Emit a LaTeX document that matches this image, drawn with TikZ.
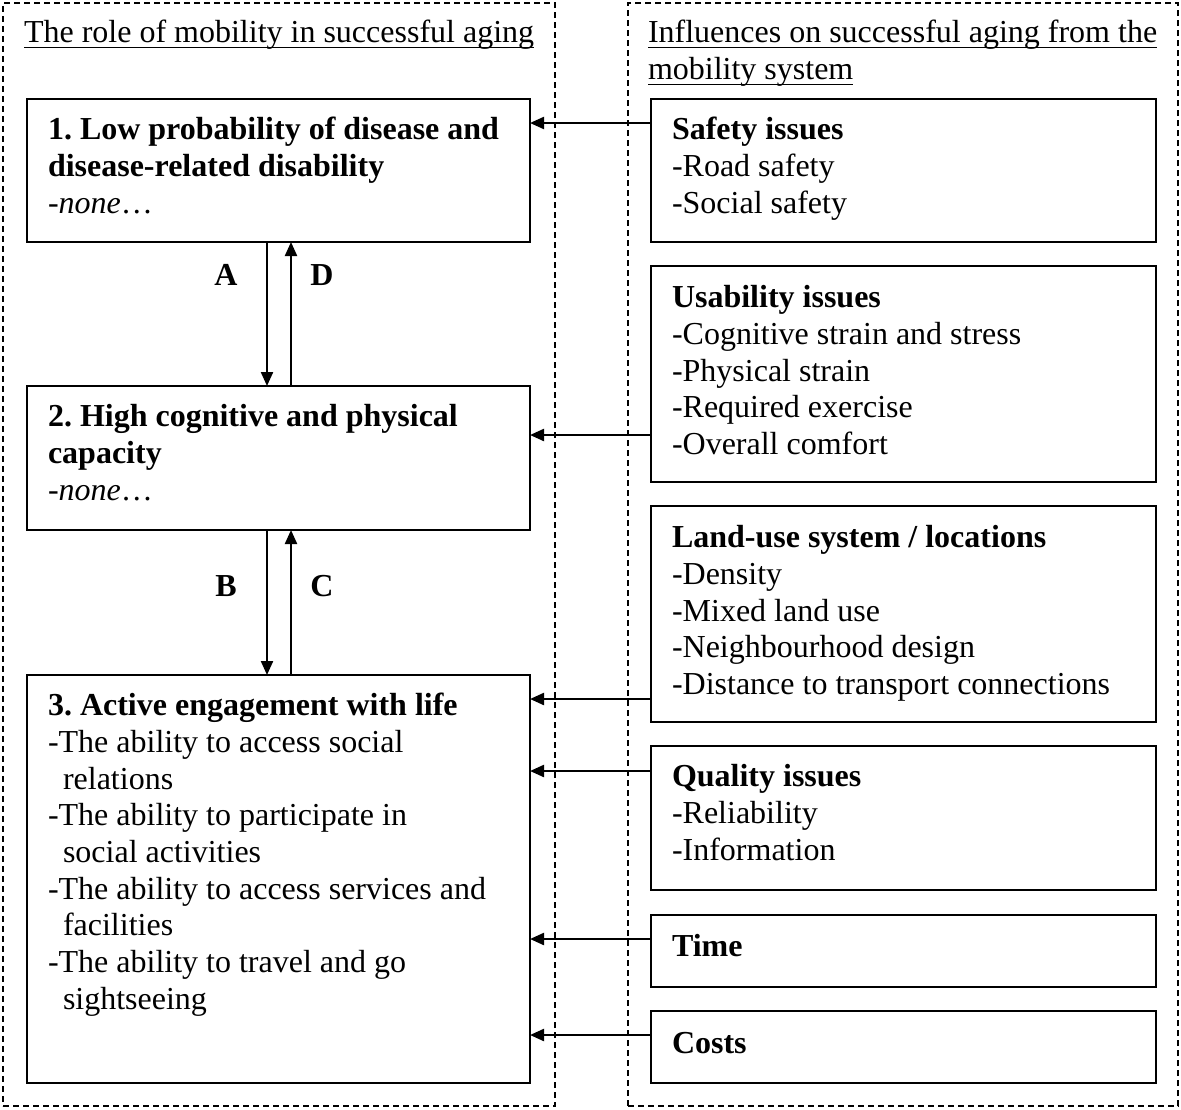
\documentclass[tikz,border=0pt]{standalone}
\usepackage{fontspec}
\setmainfont{Liberation Serif}
\usetikzlibrary{arrows.meta}
\frenchspacing
\begin{document}
\begin{tikzpicture}[x=1pt,y=-1pt,
  every node/.style={font=\fontsize{32}{36.7}\selectfont, inner sep=0pt, outer sep=0pt},
  panel/.style={draw, line width=1.2pt, dash pattern=on 6pt off 4pt, anchor=north west},
  box/.style={draw, line width=2pt, anchor=north west},
  lbox/.style={box, minimum width=503},
  rbox/.style={box, minimum width=505},
  txt/.style={anchor=north west, align=left},
  hdr/.style={anchor=base west},
  uline/.style={line width=1.4pt},
  lbl/.style={font=\fontsize{32}{36.7}\selectfont\bfseries},
  arr/.style={line width=2.2pt, -{Triangle[length=14pt,width=12pt]}},
]
\useasboundingbox (0,0) rectangle (1181,1109);

% two dashed panels
\node[panel, minimum width=552, minimum height=1103] (lp) at (3,3) {};
\node[panel, minimum width=550, minimum height=1103] (rp) at (628,3) {};

% panel headings
\node[hdr] (h1) at (24,42) {The role of mobility in successful aging};
\draw[uline] ([yshift=-5.5pt]h1.base west) -- ([yshift=-5.5pt]h1.base east);
\node[hdr] (h2) at (648,42) {Influences on successful aging from the};
\draw[uline] ([yshift=-5.5pt]h2.base west) -- ([yshift=-5.5pt]h2.base east);
\node[hdr] (h3) at (648,79) {mobility system};
\draw[uline] ([yshift=-5.5pt]h3.base west) -- ([yshift=-5.5pt]h3.base east);

% left column: components of successful aging
\node[lbox, minimum height=143] (b1) at (27,99) {};
\node[lbox, minimum height=144] (b2) at (27,386) {};
\node[lbox, minimum height=408] (b3) at (27,675) {};

\node[txt] (t1) at ([xshift=21pt,yshift=-15pt]b1.north west)
  {\strut\textbf{1. Low probability of disease and}\\
   \textbf{disease-related disability}\\
   \textit{-none}\ldots};
\node[txt] (t2) at ([xshift=21pt,yshift=-15pt]b2.north west)
  {\strut\textbf{2. High cognitive and physical}\\
   \textbf{capacity}\\
   \textit{-none}\ldots};
\node[txt] (t3) at ([xshift=21pt,yshift=-15pt]b3.north west)
  {\strut\textbf{3. Active engagement with life}\\
   -The ability to access social\\
   \hspace*{15pt}relations\\
   -The ability to participate in\\
   \hspace*{15pt}social activities\\
   -The ability to access services and\\
   \hspace*{15pt}facilities\\
   -The ability to travel and go\\
   \hspace*{15pt}sightseeing};

% right column: influences from the mobility system
\node[rbox, minimum height=143] (sf) at (651,99) {};
\node[rbox, minimum height=216] (us) at (651,266) {};
\node[rbox, minimum height=216] (lu) at (651,506) {};
\node[rbox, minimum height=144] (qu) at (651,746) {};
\node[rbox, minimum height=72]  (ti) at (651,915) {};
\node[rbox, minimum height=72]  (co) at (651,1011) {};

\node[txt] (tsf) at ([xshift=21pt,yshift=-15pt]sf.north west)
  {\strut\textbf{Safety issues}\\ -Road safety\\ -Social safety};
\node[txt] (tus) at ([xshift=21pt,yshift=-16pt]us.north west)
  {\strut\textbf{Usability issues}\\ -Cognitive strain and stress\\ -Physical strain\\
   -Required exercise\\ -Overall comfort};
\node[txt] (tlu) at ([xshift=21pt,yshift=-16pt]lu.north west)
  {\strut\textbf{Land-use system / locations}\\ -Density\\ -Mixed land use\\
   -Neighbourhood design\\ -Distance to transport connections};
\node[txt] (tqu) at ([xshift=21pt,yshift=-15pt]qu.north west)
  {\strut\textbf{Quality issues}\\ -Reliability\\ -Information};
\node[txt] (tti) at ([xshift=21pt,yshift=-16pt]ti.north west)
  {\strut\textbf{Time}};
\node[txt] (tco) at ([xshift=21pt,yshift=-17pt]co.north west)
  {\strut\textbf{Costs}};

% links between the three components
\draw[arr] ([xshift=240pt]b1.south west) -- ([xshift=240pt]b2.north west);
\draw[arr] ([xshift=264pt]b2.north west) -- ([xshift=264pt]b1.south west);
\draw[arr] ([xshift=240pt]b2.south west) -- ([xshift=240pt]b3.north west);
\draw[arr] ([xshift=264pt]b3.north west) -- ([xshift=264pt]b2.south west);
\node[lbl] (la) at (226,275) {A};
\node[lbl] (ld) at (322,275) {D};
\node[lbl] (lb) at (226,586) {B};
\node[lbl] (lc) at (322,586) {C};

% influences feeding into the components
\coordinate (psf) at ([yshift=-24pt]sf.north west);
\coordinate (pus) at ([yshift=-169pt]us.north west);
\coordinate (plu) at ([yshift=-193pt]lu.north west);
\coordinate (pqu) at ([yshift=-25pt]qu.north west);
\coordinate (pti) at ([yshift=-24pt]ti.north west);
\coordinate (pco) at ([yshift=-24pt]co.north west);
\draw[arr] (psf) -- (psf -| b1.east);
\draw[arr] (pus) -- (pus -| b2.east);
\draw[arr] (plu) -- (plu -| b3.east);
\draw[arr] (pqu) -- (pqu -| b3.east);
\draw[arr] (pti) -- (pti -| b3.east);
\draw[arr] (pco) -- (pco -| b3.east);
\end{tikzpicture}
\end{document}
